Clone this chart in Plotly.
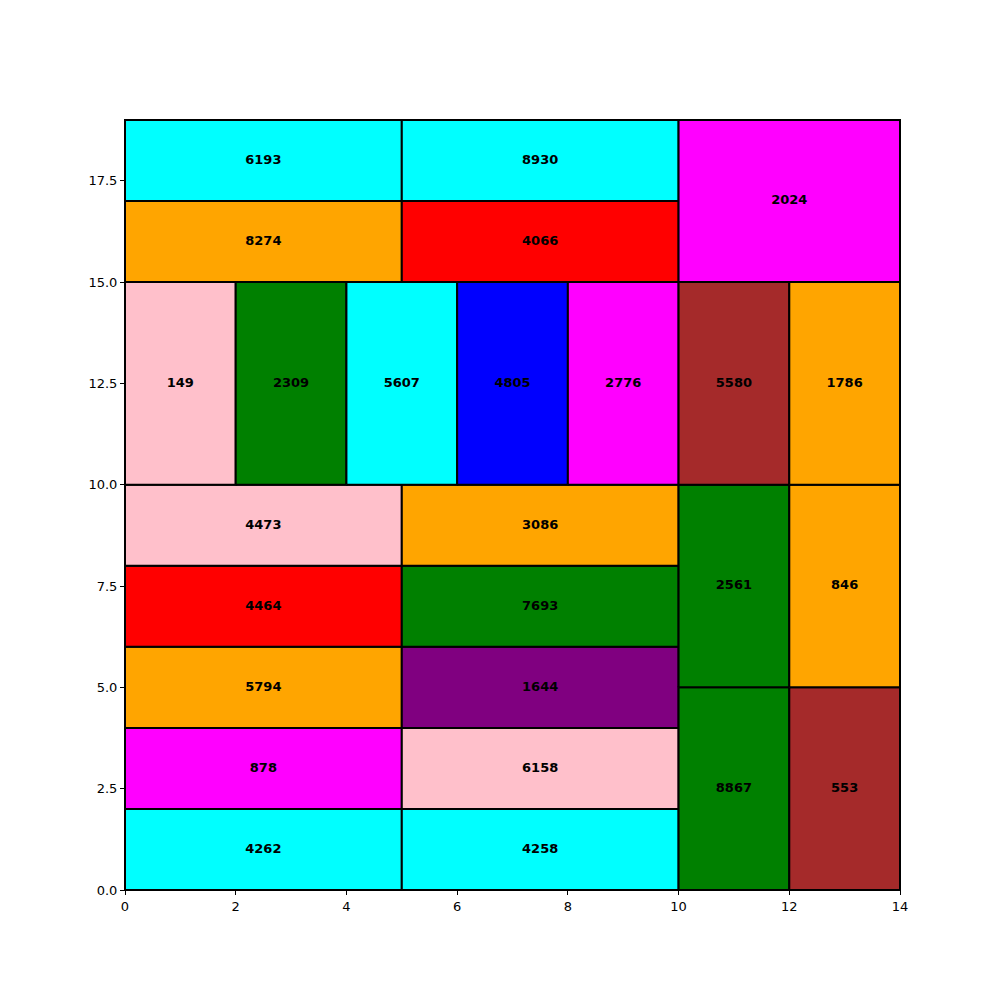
import plotly.graph_objects as go

# rectangles: x, y, width, height, color, value
rx = [0, 5, 0, 5, 0, 5, 0, 5, 0, 5, 10, 12, 10, 12, 0, 2, 4, 6, 8, 10, 12, 0, 5, 0, 5, 10]
ry = [0, 0, 2, 2, 4, 4, 6, 6, 8, 8, 0, 0, 5, 5, 10, 10, 10, 10, 10, 10, 10, 15, 15, 17, 17, 15]
rw = [5, 5, 5, 5, 5, 5, 5, 5, 5, 5, 2, 2, 2, 2, 2, 2, 2, 2, 2, 2, 2, 5, 5, 5, 5, 4]
rh = [2, 2, 2, 2, 2, 2, 2, 2, 2, 2, 5, 5, 5, 5, 5, 5, 5, 5, 5, 5, 5, 2, 2, 2, 2, 4]
colors = ["cyan", "cyan", "magenta", "pink", "orange", "purple", "red", "green",
          "pink", "orange", "green", "brown", "green", "orange",
          "pink", "green", "cyan", "blue", "magenta", "brown", "orange",
          "orange", "red", "cyan", "cyan", "magenta"]
values = [4262, 4258, 878, 6158, 5794, 1644, 4464, 7693, 4473, 3086,
          8867, 553, 2561, 846,
          149, 2309, 5607, 4805, 2776, 5580, 1786,
          8274, 4066, 6193, 8930, 2024]

x_ticks = [0, 2, 4, 6, 8, 10, 12, 14]
y_ticks = [0, 2.5, 5, 7.5, 10, 12.5, 15, 17.5]

fig = go.Figure()
for x, y, w, h, c in zip(rx, ry, rw, rh, colors):
    fig.add_trace(go.Scatter(
        x=[x, x + w, x + w, x, x], y=[y, y, y + h, y + h, y],
        mode="lines", fill="toself", fillcolor=c,
        line=dict(color="black", width=2), hoverinfo="skip", showlegend=False))

fig.add_trace(go.Scatter(
    x=[x + w / 2 for x, w in zip(rx, rw)],
    y=[y + h / 2 for y, h in zip(ry, rh)],
    mode="text", text=[str(v) for v in values],
    textfont=dict(family="DejaVu Sans", size=13, color="black", weight="bold"),
    showlegend=False, hoverinfo="skip"))

axis_common = dict(showgrid=False, zeroline=False, showline=True, linecolor="black",
                   linewidth=1, mirror=True, ticks="outside", ticklen=4,
                   tickcolor="black", tickfont=dict(family="DejaVu Sans", size=13, color="black"))
fig.update_xaxes(range=[0, 14], tickvals=x_ticks, ticktext=[str(t) for t in x_ticks], **axis_common)
fig.update_yaxes(range=[0, 19], tickvals=y_ticks, ticktext=[f"{t:.1f}" for t in y_ticks], **axis_common)

fig.update_layout(width=1000, height=1000, margin=dict(l=125, r=100, t=120, b=110),
                  plot_bgcolor="white", paper_bgcolor="white")
fig.write_html("out.html")
